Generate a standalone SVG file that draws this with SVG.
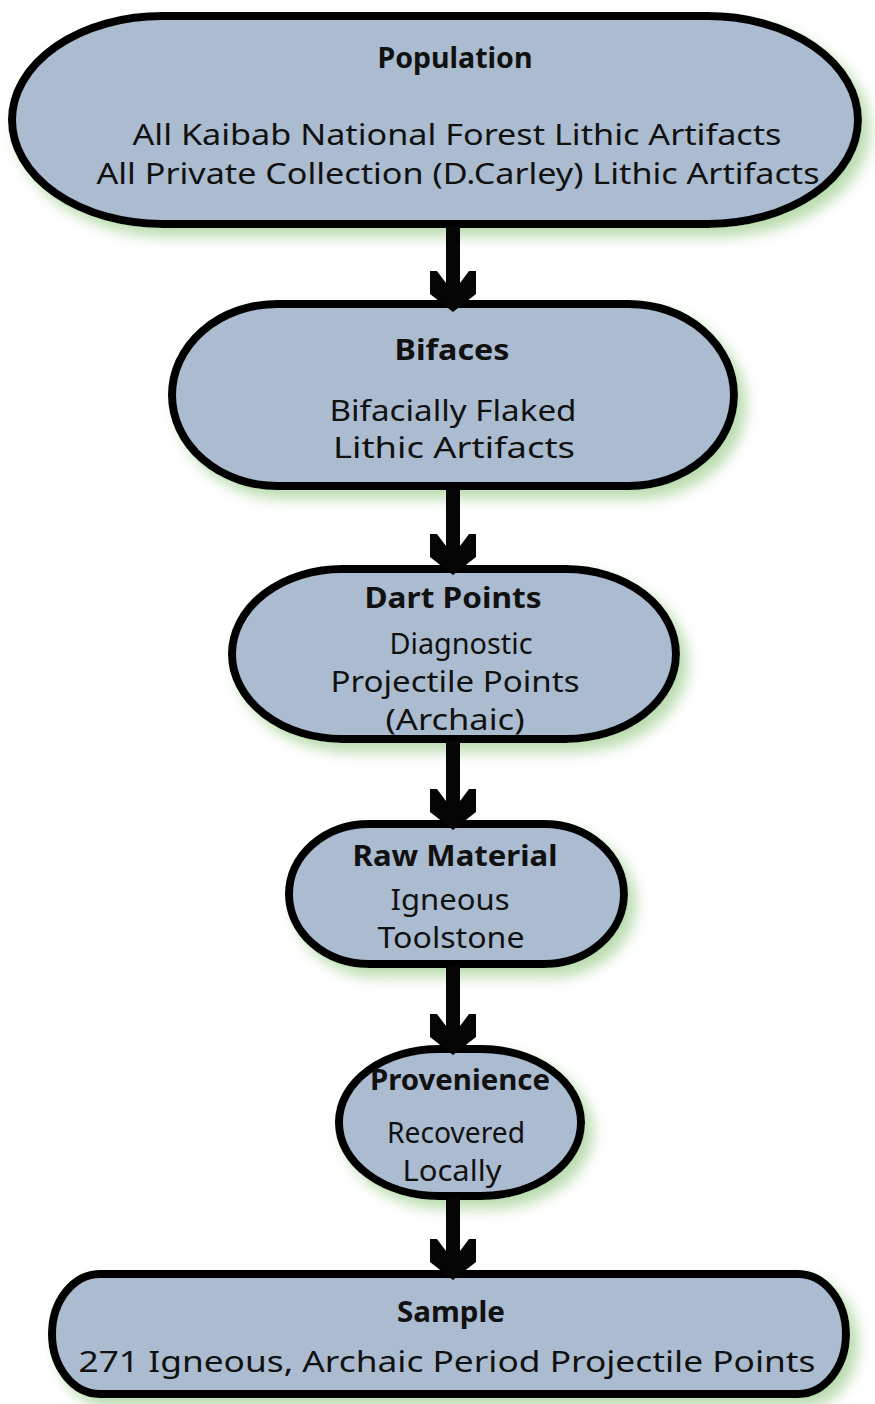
<svg xmlns="http://www.w3.org/2000/svg" width="875" height="1404" viewBox="0 0 875 1404">
<defs>
<filter id="glow" x="-10%" y="-15%" width="130%" height="145%">
<feGaussianBlur in="SourceAlpha" stdDeviation="7"/>
<feOffset dx="8" dy="9" result="b"/>
<feFlood flood-color="#8cc47a" flood-opacity="0.6"/>
<feComposite in2="b" operator="in"/>
<feMerge><feMergeNode/><feMergeNode in="SourceGraphic"/></feMerge>
</filter>
</defs>
<style>
.box{fill:#abbbd0;stroke:#050505;stroke-width:8;filter:url(#glow)}
.t{font-family:"Noto Sans","DejaVu Sans",sans-serif;font-weight:bold;font-size:29px;fill:#111;text-anchor:middle}
.b{font-family:"Noto Sans","DejaVu Sans",sans-serif;font-size:29px;fill:#111;text-anchor:middle}
.arr{fill:#050505}
</style>
<rect width="875" height="1404" fill="#ffffff"/>
<g id="population">
<rect class="box" x="12" y="16" width="846" height="208" rx="150" ry="104"/>
<text class="t" x="455" y="68" textLength="155" lengthAdjust="spacingAndGlyphs">Population</text>
<text class="b" x="457" y="145" textLength="649" lengthAdjust="spacingAndGlyphs">All Kaibab National Forest Lithic Artifacts</text>
<text class="b" x="458" y="184" textLength="723" lengthAdjust="spacingAndGlyphs">All Private Collection (D.Carley) Lithic Artifacts</text>
</g>
<g id="bifaces">
<rect class="box" x="172" y="304" width="562" height="182" rx="105" ry="91"/>
<text class="t" x="452" y="360" textLength="115" lengthAdjust="spacingAndGlyphs">Bifaces</text>
<text class="b" x="453" y="421" textLength="247" lengthAdjust="spacingAndGlyphs">Bifacially Flaked</text>
<text class="b" x="454" y="458" textLength="242" lengthAdjust="spacingAndGlyphs">Lithic Artifacts</text>
</g>
<g id="dartpoints">
<rect class="box" x="232" y="569" width="444" height="170" rx="110" ry="85"/>
<text class="t" x="453" y="608" textLength="177" lengthAdjust="spacingAndGlyphs">Dart Points</text>
<text class="b" x="461" y="654" textLength="143" lengthAdjust="spacingAndGlyphs">Diagnostic</text>
<text class="b" x="455" y="692" textLength="249" lengthAdjust="spacingAndGlyphs">Projectile Points</text>
<text class="b" x="455" y="730" textLength="139" lengthAdjust="spacingAndGlyphs">(Archaic)</text>
</g>
<g id="rawmaterial">
<rect class="box" x="289" y="824" width="335" height="140" rx="80" ry="70"/>
<text class="t" x="455" y="866" textLength="205" lengthAdjust="spacingAndGlyphs">Raw Material</text>
<text class="b" x="450" y="910" textLength="119" lengthAdjust="spacingAndGlyphs">Igneous</text>
<text class="b" x="451" y="948" textLength="147" lengthAdjust="spacingAndGlyphs">Toolstone</text>
</g>
<g id="provenience">
<rect class="box" x="339" y="1049" width="242" height="147" rx="100" ry="73"/>
<text class="t" x="460" y="1090" textLength="180" lengthAdjust="spacingAndGlyphs">Provenience</text>
<text class="b" x="456" y="1143" font-size="25" textLength="138" lengthAdjust="spacingAndGlyphs">Recovered</text>
<text class="b" x="452" y="1181" font-size="25" textLength="99" lengthAdjust="spacingAndGlyphs">Locally</text>
</g>
<g id="sample">
<rect class="box" x="52" y="1274" width="794" height="120" rx="48" ry="60"/>
<text class="t" x="451" y="1322" textLength="108" lengthAdjust="spacingAndGlyphs">Sample</text>
<text class="b" x="447" y="1372" textLength="737" lengthAdjust="spacingAndGlyphs">271 Igneous, Archaic Period Projectile Points</text>
</g>
<g id="connectors">
<polygon class="arr" points="446,226 446,283 437,271 430,271 430,294 453,312 476,294 476,271 469,271 460,283 460,226"/>
<polygon class="arr" points="446,488 446,546 437,534 430,534 430,557 453,575 476,557 476,534 469,534 460,546 460,488"/>
<polygon class="arr" points="446,741 446,801 437,789 430,789 430,812 453,830 476,812 476,789 469,789 460,801 460,741"/>
<polygon class="arr" points="446,966 446,1026 437,1014 430,1014 430,1037 453,1055 476,1037 476,1014 469,1014 460,1026 460,966"/>
<polygon class="arr" points="446,1198 446,1251 437,1239 430,1239 430,1262 453,1280 476,1262 476,1239 469,1239 460,1251 460,1198"/>
</g>
</svg>
